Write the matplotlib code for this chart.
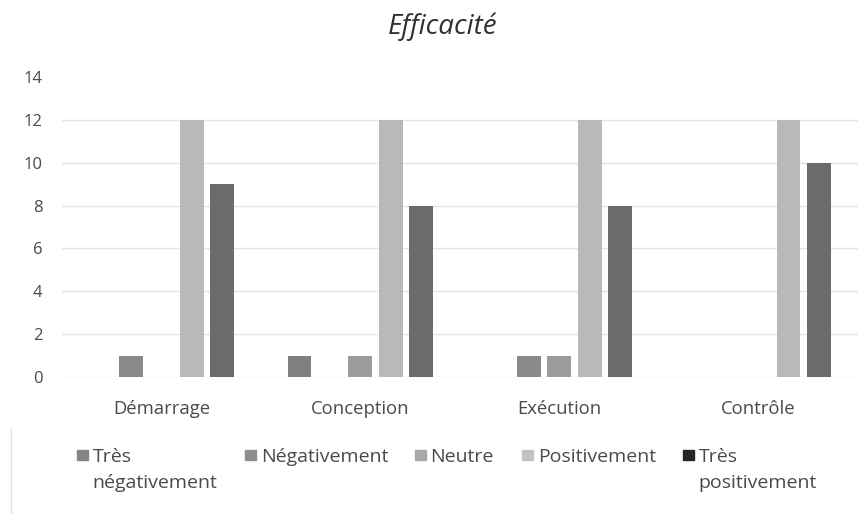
import matplotlib
matplotlib.use("Agg")
import matplotlib.pyplot as plt
from matplotlib.patches import Rectangle
import numpy as np

plt.rcParams['font.family'] = ['Open Sans', 'DejaVu Sans']

# Data
phases = ["Démarrage", "Conception", "Exécution", "Contrôle"]
series_names = ["Très\nnégativement", "Négativement", "Neutre", "Positivement", "Très\npositivement"]
tres_negativement = [0, 1, 0, 0]
negativement = [1, 0, 1, 0]
neutre = [0, 1, 1, 0]
positivement = [12, 12, 12, 12]
tres_positivement = [9, 8, 8, 10]
y_ticks = [0, 2, 4, 6, 8, 10, 12, 14]

series_values = [tres_negativement, negativement, neutre, positivement, tres_positivement]
bar_colors = ["#808080", "#8a8a8a", "#9c9c9c", "#b9b9b9", "#6b6b6b"]
legend_colors = ["#868686", "#8e8e8e", "#a8a8a8", "#c2c2c2", "#262626"]
text_color = "#4a4a4a"

fig = plt.figure(figsize=(8.68, 5.14), dpi=100)
ax = fig.add_axes([0.0714, 0.2665, 0.9166, 0.5835])

x = np.arange(len(phases))
slot = 0.153
width = 0.12
for i, (vals, col) in enumerate(zip(series_values, bar_colors)):
    ax.bar(x + (i - 2) * slot, vals, width=width, color=col, zorder=3)

ax.set_xlim(-0.5, len(phases) - 0.5)
ax.set_ylim(0, 14)
ax.set_yticks(y_ticks)
ax.set_xticks(x)
ax.set_xticklabels(phases, fontsize=13.3, color=text_color)
ax.tick_params(axis='y', labelsize=12, colors=text_color, length=0, pad=14)
ax.tick_params(axis='x', length=0, pad=16.5)

# horizontal gridlines (none at the top value)
for yv in y_ticks[:-1]:
    ax.axhline(yv, color="#e4e4e4", linewidth=1.0, zorder=1)
for s in ax.spines.values():
    s.set_visible(False)

fig.text(0.51, 0.948, "Efficacité", ha="center", va="center", fontsize=20,
         style="italic", color="#303030")

# Legend drawn entry by entry, marker aligned with the first text line
legend_x = [0.0887, 0.2823, 0.4781, 0.6014, 0.7869]
legend_y = 1 - 455 / 514
for name, col, lx in zip(series_names, legend_colors, legend_x):
    fig.patches.append(Rectangle((lx, legend_y - 0.0107), 0.0127, 0.0214,
                                 transform=fig.transFigure, color=col,
                                 figure=fig))
    fig.text(lx + 0.0180, legend_y + 0.0132, name, ha="left", va="top",
             fontsize=14, color=text_color, linespacing=1.57)

# faint edge line at the lower left
fig.add_artist(plt.Line2D([0.0125, 0.0125], [0.0, 0.165], transform=fig.transFigure,
                          color="#e0e0e0", linewidth=1))

fig.savefig("out.png", dpi=100, facecolor="white")
